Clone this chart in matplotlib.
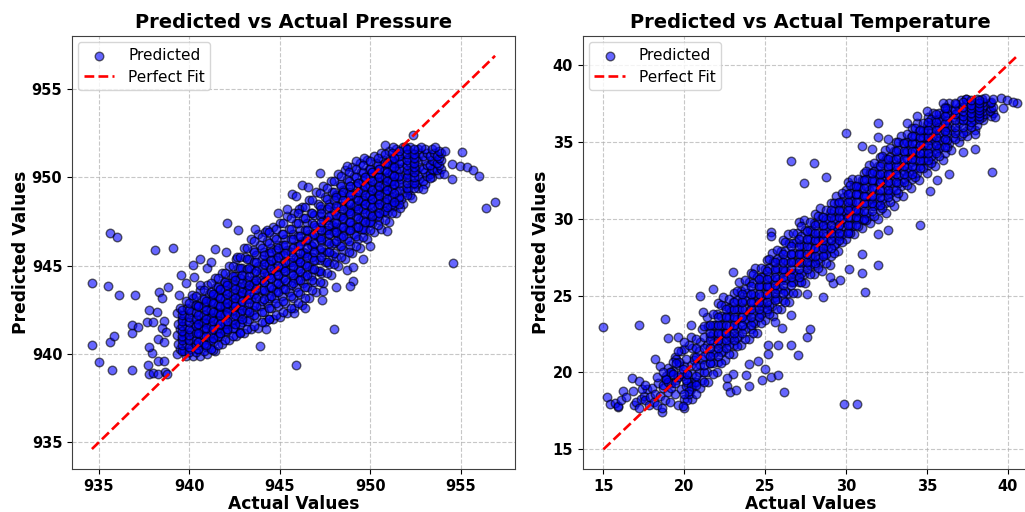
import matplotlib
matplotlib.use("Agg")
import matplotlib.pyplot as plt

pressure_core_actual = [
939.3,939.5,939.4,939.6,939.3,939.5,939.4,939.6,939.3,939.5,
939.8,939.7,939.9,939.8,939.7,939.9,939.8,939.7,939.9,939.8,
940.2,940.1,940.3,940.2,940.1,940.3,940.2,940.1,940.3,940.2,
940.6,940.5,940.7,940.6,940.5,940.7,940.6,940.5,940.7,940.6,
941.0,940.9,941.1,941.0,940.9,941.1,941.0,940.9,941.1,941.0,
941.4,941.3,941.5,941.4,941.3,941.5,941.4,941.3,941.5,941.4,
941.8,941.7,941.9,941.8,941.7,941.9,941.8,941.7,941.9,941.8,
942.2,942.1,942.3,942.2,942.1,942.3,942.2,942.1,942.3,942.2,
942.6,942.5,942.7,942.6,942.5,942.7,942.6,942.5,942.7,942.6,
943.0,942.9,943.1,943.0,942.9,943.1,943.0,942.9,943.1,943.0,
943.4,943.3,943.5,943.4,943.3,943.5,943.4,943.3,943.5,943.4,
943.8,943.7,943.9,943.8,943.7,943.9,943.8,943.7,943.9,943.8,
944.2,944.1,944.3,944.2,944.1,944.3,944.2,944.1,944.3,944.2,
944.6,944.5,944.7,944.6,944.5,944.7,944.6,944.5,944.7,944.6,
945.0,944.9,945.1,945.0,944.9,945.1,945.0,944.9,945.1,945.0,
945.4,945.3,945.5,945.4,945.3,945.5,945.4,945.3,945.5,945.4,
945.8,945.7,945.9,945.8,945.7,945.9,945.8,945.7,945.9,945.8,
946.2,946.1,946.3,946.2,946.1,946.3,946.2,946.1,946.3,946.2,
946.6,946.5,946.7,946.6,946.5,946.7,946.6,946.5,946.7,946.6,
947.0,946.9,947.1,947.0,946.9,947.1,947.0,946.9,947.1,947.0,
947.4,947.3,947.5,947.4,947.3,947.5,947.4,947.3,947.5,947.4,
947.8,947.7,947.9,947.8,947.7,947.9,947.8,947.7,947.9,947.8,
948.2,948.1,948.3,948.2,948.1,948.3,948.2,948.1,948.3,948.2,
948.6,948.5,948.7,948.6,948.5,948.7,948.6,948.5,948.7,948.6,
949.0,948.9,949.1,949.0,948.9,949.1,949.0,948.9,949.1,949.0,
949.4,949.3,949.5,949.4,949.3,949.5,949.4,949.3,949.5,949.4,
949.8,949.7,949.9,949.8,949.7,949.9,949.8,949.7,949.9,949.8,
950.2,950.1,950.3,950.2,950.1,950.3,950.2,950.1,950.3,950.2,
950.6,950.5,950.7,950.6,950.5,950.7,950.6,950.5,950.7,950.6,
951.0,950.9,951.1,951.0,950.9,951.1,951.0,950.9,951.1,951.0,
951.4,951.3,951.5,951.4,951.3,951.5,951.4,951.3,951.5,951.4,
951.8,951.7,951.9,951.8,951.7,951.9,951.8,951.7,951.9,951.8,
952.2,952.1,952.3,952.2,952.1,952.3,952.2,952.1,952.3,952.2,
952.6,952.5,952.7,952.6,952.5,952.7,952.6,952.5,952.7,952.6,
953.0,952.9,953.1,953.0,952.9,953.1,953.0,952.9,953.1,953.0,
953.4,953.3,953.5,953.4,953.3,953.5,953.4,953.3,953.5,953.4,
953.8,953.7,953.9,953.8,953.7,953.9,953.8,953.7,953.9,953.8,
]
pressure_core_pred = [
940.0,940.3,940.6,940.9,941.1,941.4,941.7,942.0,942.3,942.6,
939.9,940.2,940.6,940.9,941.2,941.5,941.9,942.2,942.6,943.0,
939.9,940.3,940.6,941.0,941.3,941.7,942.0,942.4,942.8,943.2,
939.9,940.3,940.7,941.1,941.5,941.8,942.2,942.7,943.1,943.6,
940.0,940.4,940.8,941.3,941.7,942.1,942.5,942.9,943.4,943.9,
940.2,940.7,941.1,941.5,942.0,942.4,942.9,943.3,943.8,944.3,
940.6,941.0,941.4,941.9,942.3,942.7,943.2,943.6,944.1,944.6,
940.8,941.3,941.7,942.2,942.6,943.1,943.5,944.0,944.5,945.0,
941.0,941.5,942.0,942.5,942.9,943.4,943.9,944.4,944.9,945.4,
941.2,941.8,942.3,942.8,943.4,943.9,944.4,944.9,945.5,946.0,
941.4,942.0,942.5,943.1,943.7,944.2,944.8,945.4,945.9,946.5,
941.5,942.1,942.7,943.3,943.9,944.5,945.0,945.6,946.2,946.8,
941.8,942.4,942.9,943.5,944.1,944.6,945.2,945.8,946.4,946.9,
942.0,942.6,943.2,943.7,944.3,944.9,945.4,946.0,946.6,947.2,
942.1,942.7,943.3,943.9,944.4,945.0,945.6,946.2,946.8,947.4,
942.3,942.9,943.5,944.1,944.7,945.2,945.9,946.5,947.1,947.8,
942.6,943.2,943.8,944.3,944.9,945.5,946.1,946.8,947.4,948.0,
942.8,943.4,944.0,944.6,945.2,945.8,946.4,947.0,947.7,948.3,
943.2,943.8,944.4,945.0,945.6,946.2,946.8,947.4,948.0,948.7,
943.5,944.1,944.7,945.3,945.9,946.6,947.2,947.9,948.5,949.2,
944.0,944.6,945.2,945.8,946.4,947.0,947.6,948.2,948.9,949.5,
944.5,945.1,945.6,946.2,946.8,947.3,947.9,948.5,949.2,949.8,
945.0,945.5,946.1,946.7,947.2,947.8,948.4,949.0,949.6,950.2,
945.4,945.9,946.5,947.0,947.6,948.2,948.7,949.3,949.9,950.4,
945.7,946.2,946.8,947.3,947.9,948.4,949.0,949.5,950.1,950.6,
946.0,946.5,947.1,947.6,948.1,948.7,949.2,949.7,950.3,950.8,
946.5,947.0,947.5,948.0,948.5,949.0,949.5,950.0,950.5,951.0,
946.9,947.4,947.9,948.4,948.8,949.3,949.8,950.3,950.8,951.2,
947.1,947.6,948.1,948.6,949.1,949.6,950.0,950.5,951.0,951.4,
947.5,948.0,948.4,948.9,949.3,949.8,950.2,950.7,951.1,951.5,
948.0,948.4,948.8,949.2,949.6,950.0,950.4,950.8,951.2,951.6,
948.5,948.8,949.2,949.5,949.9,950.2,950.6,950.9,951.3,951.7,
949.0,949.3,949.6,949.9,950.2,950.5,950.8,951.1,951.4,951.7,
949.4,949.6,949.9,950.1,950.4,950.6,950.9,951.1,951.4,951.6,
949.6,949.8,950.1,950.3,950.5,950.7,951.0,951.2,951.4,951.6,
950.0,950.2,950.4,950.5,950.7,950.9,951.0,951.2,951.4,951.6,
950.2,950.4,950.5,950.7,950.8,951.0,951.1,951.2,951.4,951.5,
]
pressure_edge_actual = [
934.63,935.63,936.03,935.53,936.12,937.02,938.13,939.12,934.63,935.63,935.83,935.02,935.72,936.82,936.82,936.82,
937.2,937.72,937.8,938.02,938.29,938.66,938.75,937.93,937.8,938.29,938.62,938.29,938.62,937.69,938.02,938.2,
937.8,938.62,938.48,938.72,938.31,938.51,938.81,939.43,939.53,939.82,940.26,940.23,940.61,940.13,940.61,941.0,
941.2,941.4,942.01,942.1,942.71,943.61,942.62,944.27,944.92,945.38,946.06,945.69,945.87,946.2,946.57,947.22,
948.69,949.19,949.66,950.8,951.27,952.37,951.9,952.79,953.56,954.12,955.07,954.48,954.95,955.35,955.68,955.99,
954.48,954.08,953.29,952.88,952.28,951.63,956.38,956.88,954.58,950.0,949.57,950.9,949.06,948.87,948.69,949.06,
947.99,948.1,947.4,947.31,946.39,945.8,944.4,944.22,943.9,945.89,942.8,941.33,
]
pressure_edge_pred = [
944.03,946.84,946.65,943.86,943.33,943.33,945.9,946.0,940.54,940.71,941.01,939.56,939.11,939.11,941.22,941.62,
941.56,939.39,938.86,938.92,938.86,939.0,938.86,940.09,940.41,940.84,940.69,939.62,939.62,941.84,941.84,942.37,
942.48,941.9,941.5,941.28,943.52,943.2,943.77,943.33,944.46,944.01,944.39,945.05,945.39,943.35,943.92,944.86,
945.2,945.93,945.8,947.42,947.03,947.1,945.52,947.03,948.0,948.21,948.21,949.06,948.95,949.57,949.48,950.27,
950.66,950.91,951.08,951.83,951.7,952.38,951.74,951.74,951.74,951.51,951.46,950.76,950.66,950.61,950.42,950.08,
949.91,950.21,949.95,949.33,948.82,948.25,948.29,948.63,945.18,946.14,945.37,946.95,944.16,943.86,944.76,944.95,
941.43,943.78,943.58,943.07,942.63,942.31,941.97,941.41,940.45,939.39,941.28,940.24,
]
pressure_mid_columns = [939.6,940.0,940.4,940.8,941.2,941.6,942.0,942.4,942.8,943.2,943.6,944.0,944.4,944.8,945.2,945.6,946.0,
946.4,946.8,947.2,947.6,948.0,948.4,948.8,949.2,949.6,950.0,950.4,950.8,951.2,951.6,952.0,952.4]
pressure_mid_pred = [
[940.2,940.5,940.8,941.0,941.3,941.6,941.9,942.2,942.5],
[940.1,940.4,940.8,941.1,941.4,941.8,942.1,942.5,942.9],
[940.1,940.5,940.8,941.2,941.6,942.0,942.4,942.8,943.3],
[940.2,940.6,941.0,941.4,941.8,942.2,942.7,943.1,943.6],
[940.3,940.8,941.2,941.6,942.1,942.5,943.0,943.5,944.0],
[940.5,941.0,941.5,941.9,942.4,942.8,943.3,943.8,944.3],
[940.8,941.3,941.7,942.2,942.7,943.1,943.6,944.1,944.6],
[941.0,941.5,942.0,942.5,942.9,943.4,943.9,944.4,945.0],
[941.2,941.7,942.3,942.8,943.3,943.8,944.3,944.9,945.5],
[941.4,941.9,942.5,943.1,943.6,944.2,944.8,945.4,946.0],
[941.6,942.2,942.8,943.4,944.0,944.6,945.2,945.8,946.4],
[941.8,942.4,943.0,943.6,944.2,944.8,945.4,946.0,946.6],
[942.0,942.6,943.2,943.8,944.5,945.1,945.7,946.3,946.9],
[942.2,942.9,943.5,944.1,944.7,945.3,945.9,946.5,947.1],
[942.4,943.0,943.7,944.3,944.9,945.6,946.2,946.8,947.4],
[942.6,943.3,943.9,944.6,945.2,945.8,946.5,947.1,947.7],
[942.9,943.5,944.2,944.8,945.4,946.1,946.7,947.4,948.0],
[943.2,943.8,944.4,945.1,945.7,946.4,947.0,947.7,948.3],
[943.6,944.2,944.8,945.5,946.1,946.7,947.4,948.0,948.7],
[944.1,944.7,945.3,945.9,946.6,947.2,947.8,948.4,949.1],
[944.6,945.2,945.8,946.4,947.0,947.6,948.2,948.8,949.4],
[945.1,945.7,946.3,946.9,947.5,948.1,948.7,949.2,949.8],
[945.5,946.1,946.6,947.2,947.8,948.4,949.0,949.5,950.1],
[945.8,946.4,947.0,947.5,948.1,948.6,949.2,949.8,950.3],
[946.1,946.7,947.2,947.8,948.4,948.9,949.5,950.0,950.5],
[946.6,947.1,947.6,948.2,948.7,949.3,949.8,950.3,950.7],
[947.0,947.5,948.0,948.5,949.0,949.5,950.0,950.5,950.9],
[947.3,947.8,948.3,948.8,949.3,949.8,950.2,950.7,951.1],
[947.6,948.1,948.6,949.1,949.5,950.0,950.4,950.8,951.3],
[948.0,948.5,948.9,949.4,949.8,950.2,950.6,951.0,951.4],
[948.5,948.9,949.3,949.7,950.1,950.5,950.8,951.2,951.5],
[949.0,949.4,949.7,950.0,950.4,950.7,951.0,951.3,951.6],
[949.4,949.7,950.0,950.3,950.6,950.8,951.1,951.3,951.6],
]
pressure_dense_columns = [940.5,940.9,941.3,941.7,942.1,942.5,942.9,943.3,943.7,944.1,944.5,944.9,945.3,945.7,946.1,946.5,946.9,
947.3,947.7,948.1,948.5,948.9,949.3,949.7,950.1,950.5,950.9,951.3]
pressure_dense_pred = [
[940.3,940.7,941.2,941.7,942.2,942.7],
[940.5,941.0,941.5,942.0,942.5,943.0],
[940.9,941.4,941.9,942.4,942.9,943.4],
[941.2,941.7,942.2,942.7,943.2,943.7],
[941.4,941.9,942.4,942.9,943.4,943.9],
[941.7,942.2,942.7,943.2,943.7,944.2],
[942.0,942.5,943.0,943.5,944.0,944.5],
[942.4,942.9,943.4,943.9,944.4,944.9],
[942.7,943.2,943.7,944.2,944.7,945.2],
[943.1,943.6,944.1,944.6,945.1,945.6],
[943.3,943.8,944.3,944.8,945.3,945.8],
[943.5,944.0,944.5,945.0,945.5,946.0],
[943.7,944.2,944.7,945.2,945.7,946.2],
[944.0,944.5,945.0,945.5,946.0,946.5],
[944.2,944.7,945.2,945.7,946.2,946.7],
[944.5,945.0,945.5,946.0,946.5,947.0],
[944.8,945.3,945.8,946.3,946.8,947.3],
[945.5,946.0,946.5,947.0,947.5,948.0],
[945.8,946.3,946.8,947.3,947.8,948.3],
[946.4,946.9,947.4,947.9,948.4,948.9],
[946.7,947.2,947.7,948.2,948.7,949.2],
[947.0,947.5,948.0,948.5,949.0,949.5],
[947.2,947.7,948.2,948.7,949.2,949.7],
[947.5,948.0,948.5,949.0,949.5,950.0],
[947.8,948.3,948.8,949.3,949.8,950.3],
[948.0,948.5,949.0,949.5,950.0,950.5],
[948.3,948.8,949.3,949.8,950.3,950.8],
[948.6,949.1,949.6,950.1,950.6,951.1],
]

temperature_core_actual = [
20.5,20.4,20.6,20.5,20.4,20.6,20.5,20.4,
21.0,21.1,20.9,21.0,21.1,20.9,21.0,21.1,
21.5,21.4,21.6,21.5,21.4,21.6,21.5,21.4,
22.0,22.1,21.9,22.0,22.1,21.9,22.0,22.1,
22.5,22.4,22.6,22.5,22.4,22.6,22.5,22.4,
23.0,23.1,22.9,23.0,23.1,22.9,23.0,23.1,
23.5,23.4,23.6,23.5,23.4,23.6,23.5,23.4,
24.0,24.1,23.9,24.0,24.1,23.9,24.0,24.1,
24.5,24.4,24.6,24.5,24.4,24.6,24.5,24.4,
25.0,25.1,24.9,25.0,25.1,24.9,25.0,25.1,
25.5,25.4,25.6,25.5,25.4,25.6,25.5,25.4,
26.0,26.1,25.9,26.0,26.1,25.9,26.0,26.1,
26.5,26.4,26.6,26.5,26.4,26.6,26.5,26.4,
27.0,27.1,26.9,27.0,27.1,26.9,27.0,27.1,
27.5,27.4,27.6,27.5,27.4,27.6,27.5,27.4,
28.0,28.1,27.9,28.0,28.1,27.9,28.0,28.1,
28.5,28.4,28.6,28.5,28.4,28.6,28.5,28.4,
29.0,29.1,28.9,29.0,29.1,28.9,29.0,29.1,
29.5,29.4,29.6,29.5,29.4,29.6,29.5,29.4,
30.0,30.1,29.9,30.0,30.1,29.9,30.0,30.1,
30.5,30.4,30.6,30.5,30.4,30.6,30.5,30.4,
31.0,31.1,30.9,31.0,31.1,30.9,31.0,31.1,
31.5,31.4,31.6,31.5,31.4,31.6,31.5,31.4,
32.0,32.1,31.9,32.0,32.1,31.9,32.0,32.1,
32.5,32.4,32.6,32.5,32.4,32.6,32.5,32.4,
33.0,33.1,32.9,33.0,33.1,32.9,33.0,33.1,
33.5,33.4,33.6,33.5,33.4,33.6,33.5,33.4,
34.0,34.1,33.9,34.0,34.1,33.9,34.0,34.1,
34.5,34.4,34.6,34.5,34.4,34.6,34.5,34.4,
35.0,35.1,34.9,35.0,35.1,34.9,35.0,35.1,
35.5,35.4,35.6,35.5,35.4,35.6,35.5,35.4,
36.0,36.1,35.9,36.0,36.1,35.9,36.0,36.1,
36.5,36.4,36.6,36.5,36.4,36.6,36.5,36.4,
37.0,37.1,36.9,37.0,37.1,36.9,37.0,37.1,
37.5,37.4,37.6,37.5,37.4,37.6,37.5,37.4,
38.0,38.1,37.9,38.0,38.1,37.9,38.0,38.1,
38.5,38.4,38.6,38.5,38.4,38.6,38.5,38.4,
39.0,39.1,38.9,39.0,39.1,38.9,39.0,39.1,
]
temperature_core_pred = [
18.3,18.9,19.4,19.9,20.5,21.0,21.6,22.3,
19.0,19.5,20.0,20.5,20.9,21.4,22.0,22.8,
19.4,20.0,20.6,21.2,21.8,22.4,23.0,23.6,
20.0,20.7,21.3,21.9,22.5,23.1,23.8,24.5,
20.8,21.4,22.0,22.6,23.1,23.7,24.3,24.9,
21.2,21.8,22.3,22.9,23.5,24.0,24.6,25.2,
21.8,22.4,23.0,23.6,24.1,24.7,25.3,25.9,
22.2,22.8,23.4,24.0,24.6,25.2,25.9,26.5,
22.6,23.2,23.8,24.4,25.0,25.6,26.2,26.8,
23.4,24.0,24.5,25.1,25.6,26.2,26.7,27.3,
23.7,24.3,24.9,25.5,26.0,26.6,27.2,27.8,
24.1,24.7,25.4,26.0,26.6,27.3,27.9,28.6,
24.6,25.2,25.9,26.5,27.1,27.7,28.4,29.0,
25.2,25.9,26.5,27.2,27.8,28.5,29.1,29.8,
25.8,26.4,27.0,27.6,28.2,28.7,29.3,29.9,
26.4,27.0,27.5,28.1,28.6,29.2,29.7,30.3,
26.6,27.2,27.7,28.3,28.9,29.5,30.1,30.7,
27.0,27.6,28.1,28.7,29.3,29.9,30.4,31.0,
27.9,28.4,28.9,29.4,30.0,30.5,31.0,31.5,
28.7,29.2,29.8,30.3,30.8,31.4,31.9,32.4,
29.0,29.5,30.0,30.5,31.1,31.6,32.1,32.6,
29.4,29.9,30.4,30.9,31.5,32.0,32.5,33.0,
29.7,30.2,30.8,31.3,31.9,32.4,33.0,33.5,
30.0,30.6,31.1,31.7,32.3,32.9,33.4,34.0,
30.4,31.0,31.6,32.2,32.8,33.3,33.9,34.5,
30.8,31.4,32.0,32.6,33.2,33.8,34.4,35.0,
31.5,32.1,32.6,33.2,33.7,34.3,34.9,35.4,
32.0,32.6,33.1,33.7,34.2,34.8,35.3,35.9,
32.5,33.0,33.5,34.1,34.6,35.1,35.7,36.2,
33.0,33.5,34.0,34.5,35.1,35.6,36.1,36.6,
33.4,33.9,34.4,34.9,35.4,35.9,36.4,36.9,
33.8,34.3,34.8,35.3,35.8,36.3,36.8,37.3,
34.5,34.9,35.3,35.8,36.2,36.6,37.1,37.5,
35.0,35.4,35.8,36.2,36.5,36.9,37.3,37.7,
35.4,35.7,36.1,36.4,36.8,37.1,37.5,37.8,
35.8,36.1,36.4,36.7,36.9,37.2,37.5,37.8,
36.4,36.6,36.8,37.0,37.2,37.4,37.6,37.8,
36.7,36.9,37.0,37.2,37.3,37.5,37.6,37.8,
]
temperature_edge_actual = [
15.0,17.21,18.81,18.98,19.6,18.22,15.21,15.41,15.93,16.2,16.77,17.19,16.81,18.61,20.01,29.91,30.71,26.2,24.01,24.79,
25.39,25.82,25.0,24.59,24.01,23.8,23.0,22.63,22.63,22.84,23.21,25.21,25.21,25.82,26.61,27.02,27.6,27.8,26.61,26.03,
25.62,28.61,27.62,29.23,29.64,29.02,31.21,31.02,32.01,30.22,31.02,34.59,32.63,32.01,39.02,38.0,38.0,26.61,28.01,27.41,
28.79,29.99,32.01,32.01,31.02,31.62,32.63,25.39,25.39,23.0,20.98,21.8,21.19,20.4,33.8,34.38,35.0,35.99,36.79,37.41,
38.61,39.6,39.99,40.6,40.36,39.23,39.74,35.21,35.62,36.4,37.23,
15.7,15.9,16.1,16.4,16.9,17.0,17.2,17.3,17.5,17.6,17.7,17.8,17.9,18.0,18.1,18.2,18.3,18.4,18.5,18.6,18.7,18.8,18.9,19.0,
19.0,19.1,19.2,19.3,19.4,19.4,19.5,19.6,19.7,19.8,19.8,19.9,20.0,20.0,20.0,20.1,20.1,20.2,20.2,20.3,20.3,20.4,20.0,19.9,
19.5,19.3,18.3,18.5,18.7,18.9,19.2,19.0,17.4,17.6,
19.2,19.4,19.6,19.8,20.2,20.4,18.9,19.1,19.7,20.1,20.3,19.5,19.9,18.7,19.3,20.0,20.6,20.7,20.2,19.6,
]
temperature_edge_pred = [
22.93,23.08,23.51,22.26,22.32,20.85,18.39,17.98,17.77,18.81,19.61,19.44,18.81,17.44,17.7,17.92,17.92,18.76,19.11,19.5,
19.72,19.83,20.22,20.76,20.54,19.83,19.93,19.61,19.11,18.74,18.85,21.19,21.78,21.78,21.78,21.13,22.32,22.8,23.77,22.91,
23.3,24.88,25.08,25.79,26.01,26.23,25.25,26.46,27.01,26.7,27.7,29.59,29.26,29.0,33.06,34.53,35.49,33.77,33.64,32.34,
32.71,35.55,36.2,35.29,34.71,34.56,35.18,29.15,28.89,26.51,24.97,25.44,23.95,23.08,36.2,36.68,37.03,37.55,37.46,37.79,
37.87,37.87,37.72,37.55,37.61,36.59,37.18,31.82,32.52,32.91,34.34,
18.0,17.8,18.2,18.4,17.9,18.1,17.7,18.3,18.5,18.2,18.9,17.9,18.4,19.0,18.1,18.6,17.9,19.3,18.5,17.7,19.0,18.2,19.6,18.7,
20.3,18.1,19.3,20.1,18.6,21.0,19.5,17.9,20.5,18.9,21.4,19.8,18.3,20.4,21.5,19.1,20.9,18.2,19.9,21.8,18.6,19.4,22.0,17.8,
20.9,20.7,19.7,20.4,19.2,19.8,20.0,19.4,18.9,19.2,
19.0,19.3,19.7,19.9,19.4,19.1,19.6,20.0,20.7,19.5,18.8,20.6,20.2,20.0,19.9,18.6,20.8,19.4,19.9,21.4,
]
temperature_mid_columns = [20.75,21.25,21.75,22.25,22.75,23.25,23.75,24.25,24.75,25.25,25.75,26.25,26.75,27.25,27.75,28.25,28.75,29.25,
29.75,30.25,30.75,31.25,31.75,32.25,32.75,33.25,33.75,34.25,34.75,35.25,35.75,36.25,36.75,37.25,37.75,38.25]
temperature_mid_pred = [
[18.6,19.2,19.8,20.4,21.0,21.6,22.2],
[19.4,20.0,20.5,21.1,21.6,22.3,23.0],
[19.9,20.6,21.2,21.9,22.5,23.1,23.8],
[20.6,21.3,21.9,22.5,23.1,23.7,24.4],
[21.2,21.8,22.4,23.0,23.6,24.2,24.8],
[21.7,22.3,22.9,23.5,24.1,24.7,25.3],
[22.2,22.8,23.5,24.1,24.7,25.4,26.0],
[22.6,23.3,23.9,24.6,25.2,25.8,26.4],
[23.2,23.8,24.4,25.0,25.6,26.2,26.8],
[23.8,24.4,25.0,25.6,26.2,26.8,27.4],
[24.1,24.8,25.4,26.1,26.8,27.4,28.0],
[24.6,25.3,26.0,26.6,27.3,27.9,28.5],
[25.2,25.9,26.5,27.2,27.8,28.4,29.1],
[25.9,26.5,27.1,27.7,28.3,28.9,29.5],
[26.4,27.0,27.6,28.1,28.7,29.3,29.8],
[26.8,27.4,28.0,28.6,29.1,29.7,30.2],
[27.1,27.7,28.3,28.9,29.4,30.0,30.6],
[27.8,28.3,28.9,29.4,30.0,30.5,31.0],
[28.5,29.0,29.5,30.0,30.5,31.1,31.7],
[29.1,29.6,30.1,30.7,31.2,31.7,32.2],
[29.5,30.0,30.5,31.1,31.6,32.1,32.6],
[29.9,30.4,31.0,31.5,32.1,32.6,33.1],
[30.2,30.8,31.4,32.0,32.5,33.1,33.6],
[30.7,31.3,31.9,32.5,33.0,33.6,34.1],
[31.1,31.7,32.3,32.9,33.5,34.0,34.6],
[31.7,32.3,32.8,33.4,34.0,34.5,35.0],
[32.2,32.8,33.3,33.9,34.4,35.0,35.5],
[32.7,33.3,33.8,34.4,34.9,35.4,35.9],
[33.3,33.8,34.3,34.8,35.3,35.8,36.2],
[33.6,34.1,34.6,35.1,35.6,36.1,36.5],
[34.1,34.6,35.1,35.6,36.0,36.5,36.9],
[34.7,35.1,35.6,36.0,36.4,36.9,37.2],
[35.2,35.6,36.0,36.4,36.8,37.1,37.5],
[35.6,36.0,36.4,36.7,37.0,37.3,37.6],
[36.0,36.3,36.6,36.9,37.2,37.4,37.7],
[36.5,36.7,36.9,37.1,37.3,37.5,37.7],
]
temperature_dense_columns = [21.6,22.1,22.6,23.1,23.6,24.1,24.6,25.1,25.6,26.1,26.6,27.1,27.6,28.1,28.6,29.1,29.6,30.1,30.6,31.1,
31.6,32.1,32.6,33.1,33.6,34.1,34.6,35.1,35.6,36.1]
temperature_dense_pred = [
[20.6,21.1,21.6,22.1,22.6,23.1],
[21.1,21.6,22.1,22.6,23.1,23.6],
[21.6,22.1,22.6,23.1,23.6,24.1],
[22.1,22.6,23.1,23.6,24.1,24.6],
[22.6,23.1,23.6,24.1,24.6,25.1],
[23.1,23.6,24.1,24.6,25.1,25.6],
[23.6,24.1,24.6,25.1,25.6,26.1],
[24.1,24.6,25.1,25.6,26.1,26.6],
[24.7,25.2,25.7,26.2,26.7,27.2],
[25.2,25.7,26.2,26.7,27.2,27.7],
[25.7,26.2,26.7,27.2,27.7,28.2],
[26.2,26.7,27.2,27.7,28.2,28.7],
[26.7,27.2,27.7,28.2,28.7,29.2],
[27.1,27.6,28.1,28.6,29.1,29.6],
[27.6,28.1,28.6,29.1,29.6,30.1],
[28.1,28.6,29.1,29.6,30.1,30.6],
[28.6,29.1,29.6,30.1,30.6,31.1],
[29.1,29.6,30.1,30.6,31.1,31.6],
[29.6,30.1,30.6,31.1,31.6,32.1],
[30.0,30.5,31.0,31.5,32.0,32.5],
[30.5,31.0,31.5,32.0,32.5,33.0],
[30.9,31.4,31.9,32.4,32.9,33.4],
[31.4,31.9,32.4,32.9,33.4,33.9],
[31.9,32.4,32.9,33.4,33.9,34.4],
[32.4,32.9,33.4,33.9,34.4,34.9],
[32.9,33.4,33.9,34.4,34.9,35.4],
[33.3,33.8,34.3,34.8,35.3,35.8],
[33.8,34.3,34.8,35.3,35.8,36.3],
[34.3,34.8,35.3,35.8,36.3,36.8],
[34.7,35.2,35.7,36.2,36.7,37.2],
]

pressure_fit = [934.63, 956.88]
temperature_fit = [15.0, 40.6]
pressure_ticks = [935, 940, 945, 950, 955]
temperature_x_ticks = [15, 20, 25, 30, 35, 40]
temperature_y_ticks = [15, 20, 25, 30, 35, 40]

W, H = 1025, 512
fig = plt.figure(figsize=(W / 100, H / 100), dpi=100)


def flatten_columns(columns, rows):
    xs, ys = [], []
    for x, row in zip(columns, rows):
        for y in row:
            xs.append(x)
            ys.append(y)
    return xs, ys


def make_axes(left, right, top, bottom):
    return fig.add_axes([left / W, 1 - bottom / H, (right - left) / W, (bottom - top) / H])


def draw(ax, xs, ys, fit, title, xticks, yticks, xlim, ylim):
    ax.scatter(xs, ys, s=38, c="blue", alpha=0.6, edgecolors="black", linewidths=1.0,
               label="Predicted", zorder=2)
    ax.plot(fit, fit, color="red", ls="--", lw=1.9, label="Perfect Fit", zorder=3)
    ax.set_title(title, fontsize=14, fontweight="bold", pad=6)
    ax.set_xlabel("Actual Values", fontsize=12.3, fontweight="bold", labelpad=1)
    ax.set_ylabel("Predicted Values", fontsize=12.3, fontweight="bold", labelpad=1.5)
    ax.set_xticks(xticks, labels=[str(t) for t in xticks], fontweight="bold", fontsize=10.5)
    ax.set_yticks(yticks, labels=[str(t) for t in yticks], fontweight="bold", fontsize=10.5)
    ax.set_xlim(*xlim)
    ax.set_ylim(*ylim)
    ax.tick_params(length=3.5, width=0.8)
    ax.grid(True, ls="--", color="#b0b0b0", alpha=0.7, lw=0.8, zorder=0)
    ax.set_axisbelow(True)
    for s in ax.spines.values():
        s.set_color("#404040")
    ax.legend(loc="upper left", fontsize=11, borderaxespad=0.42, borderpad=0.35,
              labelspacing=0.45, handletextpad=0.9)


p_mid_x, p_mid_y = flatten_columns(pressure_mid_columns, pressure_mid_pred)
p_dense_x, p_dense_y = flatten_columns(pressure_dense_columns, pressure_dense_pred)
t_mid_x, t_mid_y = flatten_columns(temperature_mid_columns, temperature_mid_pred)
t_dense_x, t_dense_y = flatten_columns(temperature_dense_columns, temperature_dense_pred)

ax1 = make_axes(72, 515, 36, 469)
draw(ax1, pressure_core_actual + pressure_edge_actual + p_mid_x + p_dense_x,
     pressure_core_pred + pressure_edge_pred + p_mid_y + p_dense_y,
     pressure_fit, "Predicted vs Actual Pressure", pressure_ticks, pressure_ticks,
     (933.53, 957.98), (933.5, 958.0))
ax2 = make_axes(582.7, 1038, 36, 469)
draw(ax2, temperature_core_actual + temperature_edge_actual + t_mid_x + t_dense_x,
     temperature_core_pred + temperature_edge_pred + t_mid_y + t_dense_y,
     temperature_fit, "Predicted vs Actual Temperature", temperature_x_ticks, temperature_y_ticks,
     (13.72, 41.88), (13.72, 41.89))

fig.savefig("out.png", dpi=100)
